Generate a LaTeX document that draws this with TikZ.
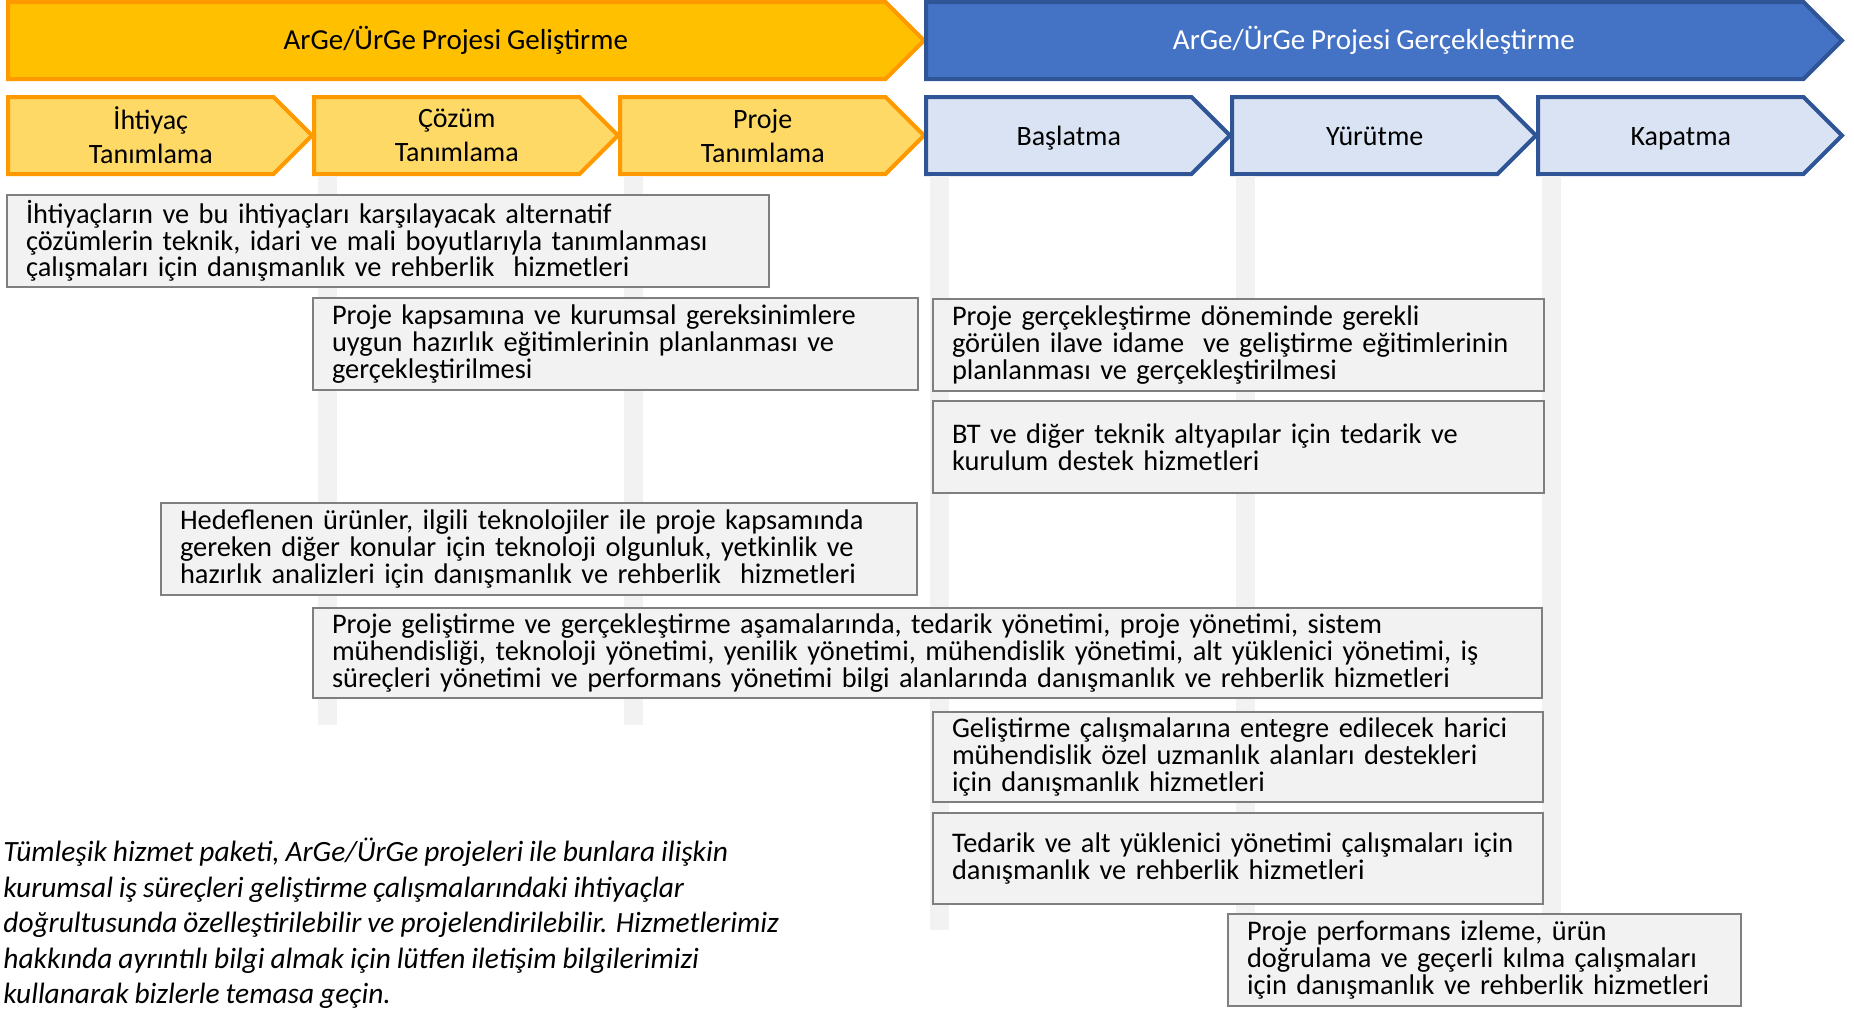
\documentclass[tikz,border=0pt]{standalone}
\usepackage{fontspec}
\setmainfont{Carlito}[WordSpace=0.9]
\usetikzlibrary{positioning,shapes.symbols}
\hyphenpenalty=10000
\definecolor{phaseorange}{HTML}{FFC000}
\definecolor{lineorange}{HTML}{FF9900}
\definecolor{steporange}{HTML}{FFD966}
\definecolor{phaseblue}{HTML}{4472C4}
\definecolor{lineblue}{HTML}{2F5597}
\definecolor{stepblue}{HTML}{DAE3F3}
\definecolor{boxgray}{HTML}{F2F2F2}
\definecolor{linegray}{HTML}{7F7F7F}
\tikzset{
  chevron/.style={shape=signal, signal to=east, signal pointer angle=90, outer sep=0pt,
    inner sep=0pt, line width=2pt, minimum height=38.5pt},
  phase/.style={chevron, minimum width=458pt},
  phasetext/.style={xshift=4.5pt, font=\fontsize{14.5}{17}\selectfont},
  substep/.style={chevron, minimum width=152pt},
  steptext/.style={xshift=5pt, align=center, font=\fontsize{14}{17}\selectfont},
  steponeline/.style={steptext, text height=9.5pt, text depth=2pt, yshift=-1.2pt},
  devstep/.style={substep, draw=lineorange, fill=steporange},
  runstep/.style={substep, draw=lineblue, fill=stepblue},
  service/.style={draw=linegray, fill=boxgray, line width=1.3pt, anchor=north west,
    outer sep=0pt, inner xsep=9.5pt, inner ysep=0pt, minimum height=46pt, align=left,
    font=\fontsize{14.2}{13.3}\selectfont},
  guide/.style={draw=boxgray, line width=9.5pt}
}
\begin{document}
\begin{tikzpicture}[x=0.5pt,y=-0.5pt]
  \useasboundingbox (0,0) rectangle (1854,1008);
  % phases
  \node[phase, draw=lineorange, fill=phaseorange, anchor=west,
    label={[phasetext]center:ArGe/ÜrGe Projesi Geliştirme}] (gelistirme) at (8,40.5) {};
  \node[phase, draw=lineblue, fill=phaseblue, right=1pt of gelistirme,
    label={[phasetext, text=white]center:ArGe/ÜrGe Projesi Gerçekleştirme}] (gerceklestirme) {};
  % steps
  \node[devstep, anchor=west, label={[steptext]center:{İhtiyaç\\Tanımlama}}] (ihtiyac) at (8,135.5) {};
  \node[devstep, right=1pt of ihtiyac, label={[steptext]center:{Çözüm\\Tanımlama}}] (cozum) {};
  \node[devstep, right=1pt of cozum, label={[steptext]center:{Proje\\Tanımlama}}] (proje) {};
  \node[runstep, right=1pt of proje, label={[steponeline]center:Başlatma}] (baslatma) {};
  \node[runstep, right=1pt of baslatma, label={[steponeline]center:Yürütme}] (yurutme) {};
  \node[runstep, right=1pt of yurutme, label={[steponeline]center:Kapatma}] (kapatma) {};
  % guide bars
  \draw[guide] ([shift={(13,40)}]cozum.west) -- ++(0,549);
  \draw[guide] ([shift={(13,40)}]proje.west) -- ++(0,549);
  \draw[guide] ([shift={(13,40)}]baslatma.west) -- ++(0,754);
  \draw[guide] ([shift={(13,40)}]yurutme.west) -- ++(0,755);
  \draw[guide] ([shift={(13,40)}]kapatma.west) -- ++(0,738);
  % services
  \node[service, minimum width=381pt, text width=362pt] (ihtiyachizmet) at (7,195)
    {İhtiyaçların ve bu ihtiyaçları karşılayacak alternatif\\
     çözümlerin teknik, idari ve mali boyutlarıyla tanımlanması\\
     çalışmaları için danışmanlık ve rehberlik~ hizmetleri};
  \node[service, minimum width=302.5pt, text width=283.5pt] (egitim) at (313,298)
    {Proje kapsamına ve kurumsal gereksinimlere\\
     uygun hazırlık eğitimlerinin planlanması ve\\
     gerçekleştirilmesi};
  \node[service, minimum width=378pt, text width=359pt] (olgunluk) at (161,503)
    {Hedeflenen ürünler, ilgili teknolojiler ile proje kapsamında\\
     gereken diğer konular için teknoloji olgunluk, yetkinlik ve\\
     hazırlık analizleri için danışmanlık ve rehberlik~ hizmetleri};
  \node[service, minimum width=305.5pt, text width=286.5pt] (idame) at (933,299)
    {Proje gerçekleştirme döneminde gerekli\\
     görülen ilave idame~ ve geliştirme eğitimlerinin\\
     planlanması ve gerçekleştirilmesi};
  \node[service, minimum width=305.5pt, text width=286.5pt] (altyapi) at (933,401)
    {BT ve diğer teknik altyapılar için tedarik ve\\
     kurulum destek hizmetleri};
  \node[service, minimum width=614.5pt, text width=595.5pt, minimum height=45pt] (yonetim) at (313,608)
    {Proje geliştirme ve gerçekleştirme aşamalarında, tedarik yönetimi, proje yönetimi, sistem\\
     mühendisliği, teknoloji yönetimi, yenilik yönetimi, mühendislik yönetimi, alt yüklenici yönetimi, iş\\
     süreçleri yönetimi ve performans yönetimi bilgi alanlarında danışmanlık ve rehberlik hizmetleri};
  \node[service, minimum width=305pt, text width=286pt, minimum height=45pt] (uzmanlik) at (933,712)
    {Geliştirme çalışmalarına entegre edilecek harici\\
     mühendislik özel uzmanlık alanları destekleri\\
     için danışmanlık hizmetleri};
  \node[service, minimum width=305pt, text width=286pt, minimum height=45.5pt] (tedarik) at (933,813)
    {Tedarik ve alt yüklenici yönetimi çalışmaları için\\
     danışmanlık ve rehberlik hizmetleri};
  \node[service, minimum width=256.5pt, text width=237.5pt] (performans) at (1228,914)
    {Proje performans izleme, ürün\\
     doğrulama ve geçerli kılma çalışmaları\\
     için danışmanlık ve rehberlik hizmetleri};
  % note
  \node[anchor=north west, inner sep=0pt, align=left, font=\itshape\fontsize{14.7}{17.7}\selectfont] (paket) at (3,838)
    {Tümleşik hizmet paketi, ArGe/ÜrGe projeleri ile bunlara ilişkin\\
     kurumsal iş süreçleri geliştirme çalışmalarındaki ihtiyaçlar\\
     doğrultusunda özelleştirilebilir ve projelendirilebilir. Hizmetlerimiz\\
     hakkında ayrıntılı bilgi almak için lütfen iletişim bilgilerimizi\\
     kullanarak bizlerle temasa geçin.};
\end{tikzpicture}
\end{document}
